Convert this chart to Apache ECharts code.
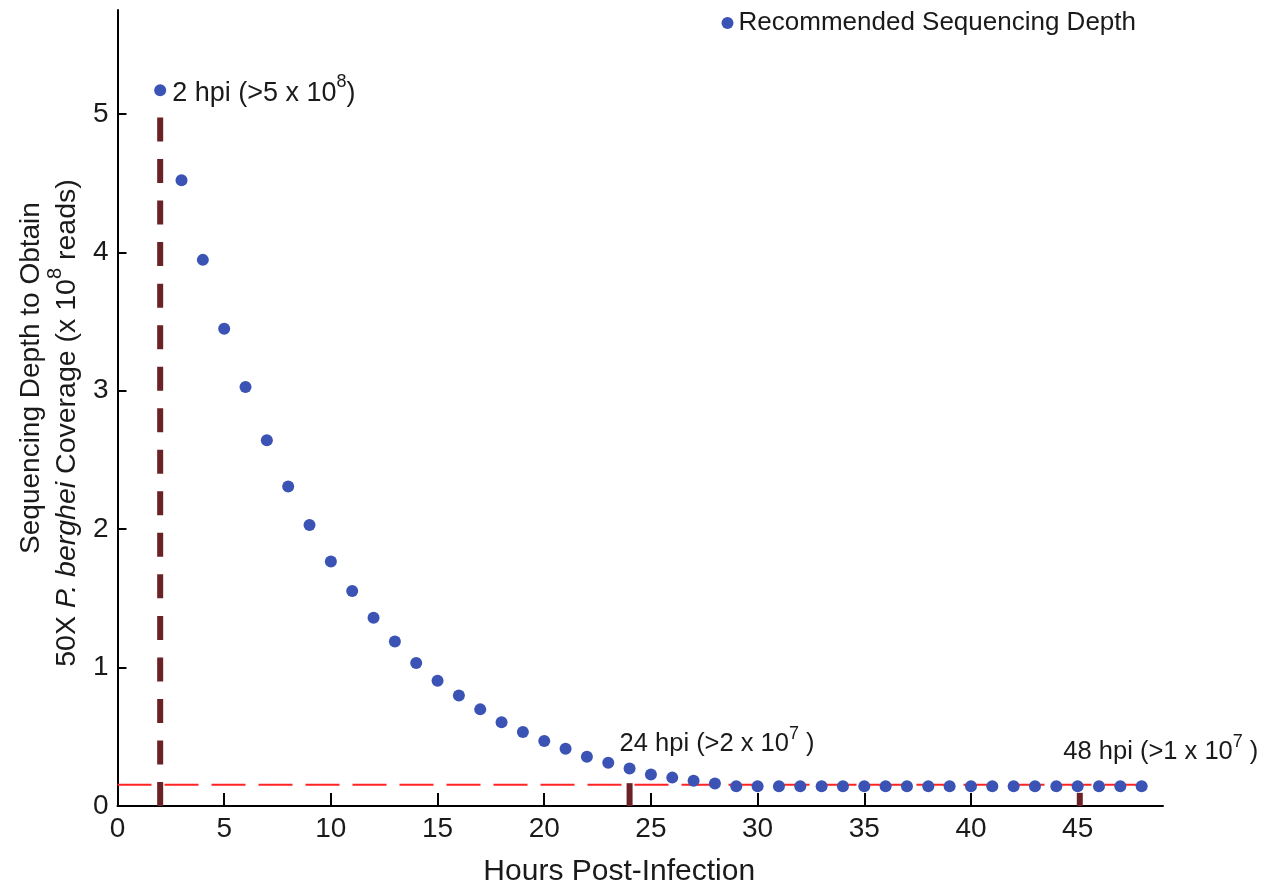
<!DOCTYPE html>
<html>
<head>
<meta charset="utf-8">
<script src="https://cdn.jsdelivr.net/npm/echarts@6/dist/echarts.min.js"></script>
<style>html,body{margin:0;padding:0;background:#fff;}#chart{width:1270px;height:892px;}</style>
</head>
<body>
<div id="chart"></div>
<script>
// ---- data ----
const hours = [2,3,4,5,6,7,8,9,10,11,12,13,14,15,16,17,18,19,20,21,22,23,24,25,26,27,28,29,30,31,32,33,34,35,36,37,38,39,40,41,42,43,44,45,46,47,48];
const depth = [5.17,4.52,3.945,3.447,3.027,2.642,2.308,2.03,1.766,1.553,1.36,1.189,1.033,0.905,0.798,0.698,0.605,0.534,0.47,0.413,0.356,0.313,0.271,0.228,0.205,0.183,0.163,0.143,0.142,0.143,0.142,0.142,0.142,0.142,0.142,0.142,0.142,0.142,0.142,0.142,0.142,0.142,0.142,0.142,0.142,0.142,0.142];
const xTicks = [0,5,10,15,20,25,30,35,40,45];
const yTicks = [0,1,2,3,4,5];
const thresholdY = 0.153;        // red dashed threshold line
const thresholdX = [0, 48];
const markerX = [2, 24, 45.1];   // brown dashed markers
const markerTop = [5.08, 0.165, 0.095];
const annoX = [2, 28.1, 48.9];
const annoY = [5.17, 0.47, 0.413];
const annoBase = ['2 hpi (>5 x 10', '24 hpi (>2 x 10', '48 hpi (>1 x 10'];
const annoExp = ['8', '7', '7'];
const annoTail = [')', ' )', ' )'];
const seriesName = 'Recommended Sequencing Depth';

const FONT = '"Liberation Sans", Arial, Helvetica, sans-serif';
const TXT = '#1a1a1a';
const chart = echarts.init(document.getElementById('chart'));

const markerSeries = markerX.map((x, i) => ({
  type: 'line', silent: true, symbol: 'none', z: 2,
  data: [[x, 0], [x, markerTop[i]]],
  lineStyle: { color: '#6b2226', width: 6, type: [24, 17.53], cap: 'butt' }
}));

function annoRich(fs) {
  return {
    b: { fontSize: fs, fontFamily: FONT, color: TXT, lineHeight: fs + 7, verticalAlign: 'bottom' },
    s: { fontSize: 18, fontFamily: FONT, color: TXT, lineHeight: 18, verticalAlign: 'top' }
  };
}

chart.setOption({
  animation: false,
  backgroundColor: '#fff',
  grid: { left: 117.5, right: 107, top: 10, bottom: 74, containLabel: false },
  legend: {
    data: [seriesName], right: 129, top: 5, icon: 'circle', itemWidth: 12, itemHeight: 12,
    textStyle: { fontSize: 26, fontFamily: FONT, color: TXT }
  },
  xAxis: {
    type: 'value', min: 0, max: 49,
    name: 'Hours Post-Infection', nameLocation: 'middle', nameGap: 51,
    nameTextStyle: { fontSize: 30, fontFamily: FONT, color: TXT, padding: [0, 42, 0, 0] },
    axisLine: { show: true, lineStyle: { color: '#000', width: 2 } },
    axisTick: { show: true, inside: true, length: 13, customValues: xTicks, lineStyle: { color: '#000', width: 2 } },
    axisLabel: { customValues: xTicks, fontSize: 28, fontFamily: FONT, color: TXT, margin: 9 },
    splitLine: { show: false }
  },
  yAxis: {
    type: 'value', min: 0, max: 5.75,
    name: '{l1|Sequencing Depth to Obtain}\n{a|50X }{i|P. berghei}{a| Coverage (x 10}{s|8}{e| reads)}',
    nameLocation: 'middle', nameRotate: 90, nameGap: 33,
    nameTextStyle: {
      fontSize: 28, fontFamily: FONT, color: TXT,
      rich: {
        l1: { fontSize: 28, fontFamily: FONT, color: TXT, lineHeight: 37, verticalAlign: 'bottom', padding: [0, 0, 0, 60] },
        a: { fontSize: 28.5, fontFamily: FONT, color: TXT, lineHeight: 37, verticalAlign: 'bottom' },
        e: { fontSize: 28.5, fontFamily: FONT, color: TXT, lineHeight: 37, verticalAlign: 'bottom', padding: [0, 30, 0, 0] },
        i: { fontSize: 28.5, fontFamily: FONT, color: TXT, fontStyle: 'italic', lineHeight: 37, verticalAlign: 'bottom' },
        s: { fontSize: 20, fontFamily: FONT, color: TXT, lineHeight: 22, verticalAlign: 'top' }
      }
    },
    axisLine: { show: true, lineStyle: { color: '#000', width: 2 } },
    axisTick: { show: true, inside: true, length: 9, customValues: yTicks, lineStyle: { color: '#000', width: 2 } },
    axisLabel: { customValues: yTicks, fontSize: 28, fontFamily: FONT, color: TXT, margin: 9 },
    splitLine: { show: false }
  },
  series: [
    ...markerSeries,
    {
      type: 'line', silent: true, symbol: 'none', z: 3,
      data: [[thresholdX[0], thresholdY], [thresholdX[1], thresholdY]],
      lineStyle: { color: '#ff2323', width: 2, type: [34, 13] }
    },
    {
      name: seriesName, type: 'scatter', z: 5,
      data: hours.map((h, i) => [h, depth[i]]),
      symbol: 'circle', symbolSize: 12,
      itemStyle: { color: '#3a53b4', opacity: 1 }
    },
    {
      type: 'scatter', silent: true, z: 6, symbolSize: 0,
      itemStyle: { opacity: 1 },
      data: annoX.map((x, i) => ({
        value: [x, annoY[i]],
        label: {
          show: true, position: i === 0 ? 'right' : 'inside', distance: 12,
          formatter: '{b|' + annoBase[i] + '}{s|' + annoExp[i] + '}{b|' + annoTail[i] + '}',
          rich: annoRich(i === 0 ? 27 : 25.5)
        }
      }))
    }
  ]
});
</script>
</body>
</html>
